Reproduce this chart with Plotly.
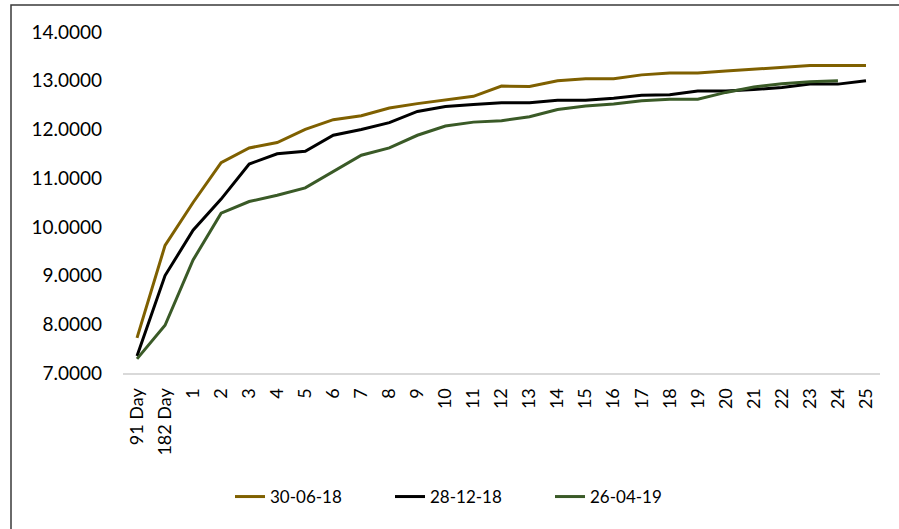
import plotly.graph_objects as go

# Tenors along the yield curve
tenors = ["91 Day", "182 Day"] + [str(i) for i in range(1, 26)]

# Yields (%) for each curve date
yields_300618 = [7.72, 9.62, 10.50, 11.32, 11.62, 11.73, 12.00, 12.20, 12.28, 12.44,
                 12.53, 12.61, 12.68, 12.89, 12.88, 13.00, 13.04, 13.04, 13.12, 13.16,
                 13.16, 13.20, 13.24, 13.28, 13.31, 13.31, 13.31]
yields_281218 = [7.35, 9.00, 9.93, 10.57, 11.29, 11.50, 11.55, 11.88, 12.00, 12.14,
                 12.37, 12.47, 12.51, 12.55, 12.55, 12.60, 12.60, 12.64, 12.70, 12.71,
                 12.79, 12.79, 12.82, 12.86, 12.93, 12.93, 13.00]
yields_260419 = [7.29, 7.98, 9.32, 10.28, 10.52, 10.65, 10.80, 11.13, 11.47, 11.62,
                 11.88, 12.07, 12.15, 12.18, 12.26, 12.41, 12.48, 12.52, 12.59, 12.62,
                 12.62, 12.76, 12.87, 12.94, 12.98, 13.00]

series = [
    ("30-06-18", yields_300618, "#7F6000"),
    ("28-12-18", yields_281218, "#000000"),
    ("26-04-19", yields_260419, "#3A5A27"),
]

fig = go.Figure()
for name, vals, color in series:
    fig.add_trace(go.Scatter(
        x=tenors[:len(vals)], y=vals, name=name, mode="lines",
        line=dict(color=color, width=3),
    ))

W, H = 899, 529
L, R, T, B = 123, 19, 32, 156
pw, ph = W - L - R, H - T - B

def px_x(x):
    return (x - L) / pw

def px_y(y):
    return (H - B - y) / ph

font = "Lato, 'Liberation Sans', Arial, sans-serif"

fig.update_layout(
    width=W, height=H,
    margin=dict(l=L, r=R, t=T, b=B),
    paper_bgcolor="white", plot_bgcolor="white",
    font=dict(family=font, size=19, color="#000000"),
    showlegend=True,
    legend=dict(
        orientation="h", x=px_x(230), y=px_y(497),
        xanchor="left", yanchor="middle",
        font=dict(family=font, size=17, color="#000000"),
        entrywidth=115, entrywidthmode="pixels",
        itemwidth=30, bgcolor="rgba(0,0,0,0)",
    ),
    xaxis=dict(
        type="category", categoryorder="array", categoryarray=tenors,
        range=[-0.5, len(tenors) - 0.5],
        showgrid=False, zeroline=False,
        showline=True, linecolor="#d9d9d9", linewidth=2,
        ticks="", tickangle=-90, ticklabelstandoff=6,
        tickfont=dict(family=font, size=18),
    ),
    yaxis=dict(
        range=[7, 14], dtick=1, tick0=7, tickformat=".4f",
        showgrid=False, zeroline=False, showline=False,
        ticks="", ticklabelstandoff=20,
        tickfont=dict(family=font, size=19),
    ),
    shapes=[dict(
        type="rect", xref="paper", yref="paper",
        x0=px_x(11), x1=px_x(910), y0=px_y(540), y1=px_y(5),
        line=dict(color="#3a3a3a", width=1.5), fillcolor="rgba(0,0,0,0)",
        layer="below",
    )],
)

fig.write_html("out.html")
